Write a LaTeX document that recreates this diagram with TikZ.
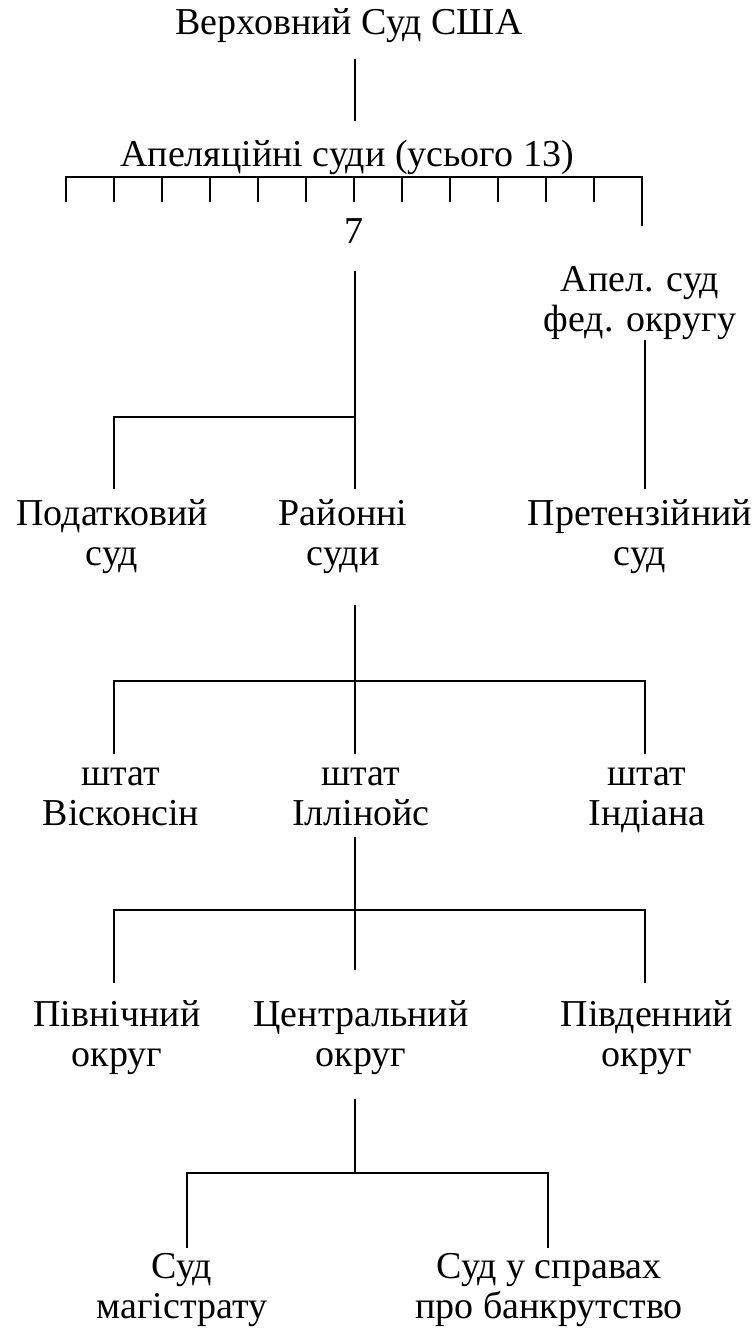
\documentclass[tikz,border=0pt]{standalone}
\usepackage{fontspec}
\setmainfont{Liberation Serif}
\begin{document}
\begin{tikzpicture}[x=1pt,y=1pt,
  lbl/.style={inner sep=0pt, outer sep=0pt, align=center, anchor=north,
    font=\fontsize{38}{40}\selectfont,
    execute at begin node=\strut, execute at end node=\strut},
  conn/.style={line width=1.7pt, line cap=rect}]
\useasboundingbox (0,0) rectangle (753,-1330);
% nodes
\node[lbl] (sup) at (349,-7) {Верховний Суд США};
\node[lbl] (app) at (347,-138) {Апеляційні суди (усього 13)};
\node[lbl] (seven) at (354,-215) {7};
\node[lbl] (apel) at (640,-266) {Апел. суд\\фед. округу};
\node[lbl] (tax) at (112,-499) {Податковий\\суд};
\node[lbl] (dist) at (343,-499) {Районні\\суди};
\node[lbl] (claims) at (640,-499) {Претензійний\\суд};
\node[lbl] (wis) at (121,-768) {штат\\Вісконсін};
\node[lbl] (ill) at (361,-768) {штат\\Іллінойс};
\node[lbl] (ind) at (647,-768) {штат\\Індіана};
\node[lbl] (nor) at (117,-1000) {Північний\\округ};
\node[lbl] (cen) at (361,-1000) {Центральний\\округ};
\node[lbl] (sou) at (647,-1000) {Південний\\округ};
\node[lbl] (mag) at (182,-1253) {Суд\\магістрату};
\node[lbl] (bank) at (549,-1253) {Суд у справах\\про банкрутство};
% x guides
\coordinate (mx) at (355,0);
\coordinate (lx) at (114,0);
\coordinate (rx) at (645,0);
% Supreme -> appellate
\draw[conn] ([yshift=-13pt]sup.south -| mx) -- ([yshift=18pt]app.north -| mx);
% bar with 13 ticks
\coordinate (barL) at (66,-177);
\coordinate (barR) at (642,-177);
\draw[conn] (barL) -- (barR);
\foreach \k in {0,...,11} {
  \draw[conn] (66+48*\k,-177) -- (66+48*\k,-201);
}
\draw[conn] (barR) -- ([yshift=41pt]apel.north -| barR);
% 7 -> district and tax
\coordinate (j1) at (355,-417);
\draw[conn] ([yshift=-17pt]seven.south -| mx) -- ([yshift=11pt]dist.north -| mx);
\draw[conn] (j1) -- (j1 -| lx) -- ([yshift=11pt]tax.north -| lx);
% federal circuit -> claims
\draw[conn] ([yshift=2pt]apel.south -| rx) -- ([yshift=11pt]claims.north -| rx);
% district -> states
\coordinate (j2) at (355,-681);
\draw[conn] ([yshift=-29pt]dist.south -| mx) -- ([yshift=15pt]ill.north -| mx);
\draw[conn] (j2 -| lx) -- (j2 -| rx);
\draw[conn] (j2 -| lx) -- ([yshift=15pt]wis.north -| lx);
\draw[conn] (j2 -| rx) -- ([yshift=15pt]ind.north -| rx);
% Illinois -> districts
\coordinate (j3) at (355,-910);
\draw[conn] (ill.south -| mx) -- ([yshift=31pt]cen.north -| mx);
\draw[conn] (j3 -| lx) -- (j3 -| rx);
\draw[conn] (j3 -| lx) -- ([yshift=18pt]nor.north -| lx);
\draw[conn] (j3 -| rx) -- ([yshift=18pt]sou.north -| rx);
% Central -> magistrate, bankruptcy
\coordinate (j4) at (355,-1173);
\coordinate (l4) at (187,0);
\coordinate (r4) at (548,0);
\draw[conn] ([yshift=-22pt]cen.south -| mx) -- (j4);
\draw[conn] (j4 -| l4) -- (j4 -| r4);
\draw[conn] (j4 -| l4) -- ([yshift=6pt]mag.north -| l4);
\draw[conn] (j4 -| r4) -- ([yshift=6pt]bank.north -| r4);
\end{tikzpicture}
\end{document}
